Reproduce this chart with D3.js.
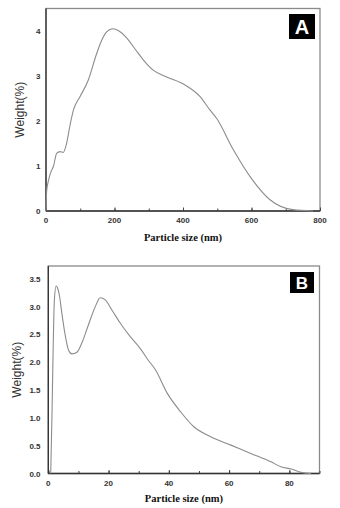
<!DOCTYPE html>
<html><head><meta charset="utf-8">
<script src="https://cdn.jsdelivr.net/npm/d3@7"></script>
<style>body{margin:0;background:#fff}svg{display:block}</style>
</head><body>
<svg id="c" width="340" height="508"></svg>
<script>
// Panel A data (particle size nm, weight %)
const sizeA = [0,2,8,15,22,31,41,50,60,70,80,100,123,148,163,177,195,211,236,260,284,313,352,406,450,479,498,547,600,654,720,780];
const weightA = [0,0.45,0.7,0.88,1.0,1.28,1.32,1.30,1.5,1.9,2.24,2.55,2.9,3.5,3.8,3.98,4.05,4.01,3.84,3.6,3.36,3.13,2.98,2.8,2.54,2.24,2.06,1.36,0.72,0.25,0.03,0];
const xTicksA = [0,200,400,600,800];
const yTicksA = [0,1,2,3,4];

// Panel B data
const sizeB = [0.8,1.2,1.6,2.0,2.6,3.1,3.7,4.5,5.6,6.7,7.8,9.5,11.1,13.3,15.6,17.2,18.9,21.1,23.9,27.2,30.6,33,35.6,39.5,43.9,48.3,53.9,60.6,67.2,73.9,77.2,80.6,83.9,87.2];
const weightB = [0,1.0,2.2,3.1,3.37,3.33,3.2,2.88,2.49,2.22,2.15,2.18,2.34,2.67,3.0,3.16,3.12,2.94,2.7,2.46,2.24,2.05,1.86,1.44,1.11,0.84,0.66,0.51,0.36,0.21,0.12,0.08,0.02,0];
const xTicksB = [0,20,40,60,80];
const yTicksB = [0,0.5,1.0,1.5,2.0,2.5,3.0,3.5];

const svg = d3.select("#c");

function panel(cfg){
  const g = svg.append("g");
  const x = d3.scaleLinear().domain(cfg.xd).range([cfg.l, cfg.r]);
  const y = d3.scaleLinear().domain(cfg.yd).range([cfg.b, cfg.t]);
  // frame top/right
  g.append("rect").attr("x",cfg.l).attr("y",cfg.t).attr("width",cfg.r-cfg.l).attr("height",cfg.b-cfg.t)
    .attr("fill","none").attr("stroke","#8a8a8a").attr("stroke-width",1.3);
  // x axis ticks (inward)
  const xa = g.append("g").attr("transform",`translate(0,${cfg.b})`)
    .call(d3.axisTop(x).tickValues(d3.range(cfg.xd[0], cfg.xd[1]+1e-9, cfg.minor)).tickSize(2.5).tickFormat(""));
  xa.select(".domain").remove();
  xa.selectAll("line").attr("stroke","#444");
  const xm = g.append("g").attr("transform",`translate(0,${cfg.b})`)
    .call(d3.axisTop(x).tickValues(cfg.xt).tickSize(3.5).tickFormat(""));
  xm.select(".domain").remove();
  xm.selectAll("line").attr("stroke","#444");
  // tick labels
  g.selectAll(".xl").data(cfg.xt).enter().append("text")
    .attr("x",d=>x(d)).attr("y",cfg.b+12).attr("text-anchor","middle")
    .attr("font-family","Liberation Sans, Arial, sans-serif").attr("font-size",8).attr("font-weight","bold").attr("fill","#333")
    .text(d=>d3.format(cfg.xf)(d));
  g.selectAll(".yl").data(cfg.yt).enter().append("text")
    .attr("x",40.5).attr("y",d=>y(d)+3).attr("text-anchor","end")
    .attr("font-family","Liberation Sans, Arial, sans-serif").attr("font-size",8).attr("font-weight","bold").attr("fill","#333")
    .text(d=>d3.format(cfg.yf)(d));
  // left & bottom axis lines
  g.append("line").attr("x1",cfg.l).attr("x2",cfg.l).attr("y1",cfg.t).attr("y2",cfg.b).attr("stroke","#333").attr("stroke-width",1.3);
  g.append("line").attr("x1",cfg.l).attr("x2",cfg.r).attr("y1",cfg.b).attr("y2",cfg.b).attr("stroke","#333").attr("stroke-width",1.3);
  // curve
  const line = d3.line().x(d=>x(d[0])).y(d=>y(d[1])).curve(d3.curveMonotoneX);
  g.append("path").datum(d3.zip(cfg.xs, cfg.ys)).attr("d",line)
    .attr("fill","none").attr("stroke","#8c8c8c").attr("stroke-width",1.1);
  // titles
  g.append("text").attr("x",(cfg.l+cfg.r)/2).attr("y",cfg.xty).attr("text-anchor","middle")
    .attr("font-family","Liberation Serif, Times New Roman, serif").attr("font-size",10.5).attr("font-weight","bold").attr("fill","#111")
    .text("Particle size (nm)");
  g.append("text").attr("transform",`translate(${cfg.ytx},${(cfg.t+cfg.b)/2}) rotate(-90)`).attr("text-anchor","middle")
    .attr("font-family","Liberation Sans, Arial, sans-serif").attr("font-size",12).attr("fill","#333")
    .text("Weight(%)");
  // label box
  g.append("rect").attr("x",cfg.box[0]).attr("y",cfg.box[1]).attr("width",cfg.box[2]).attr("height",cfg.box[3]).attr("fill","#000");
  g.append("text").attr("x",cfg.box[0]+cfg.box[2]/2).attr("y",cfg.box[1]+cfg.box[3]/2+cfg.lfs*0.36)
    .attr("text-anchor","middle").attr("font-family","Liberation Sans, Arial, sans-serif").attr("font-weight","bold")
    .attr("font-size",cfg.lfs).attr("fill","#fff").text(cfg.label);
}

panel({xs:sizeA, ys:weightA, xd:[0,800], yd:[0,4.5], l:46, r:320, t:8.5, b:211, xt:xTicksA, yt:yTicksA, minor:100,
  xf:"d", yf:"d", xty:241, ytx:24, box:[289,14,26,25], lfs:20, label:"A"});
panel({xs:sizeB, ys:weightB, xd:[0,90], yd:[0,3.73], l:48.3, r:319.5, t:266, b:473.5, xt:xTicksB, yt:yTicksB, minor:10,
  xf:"d", yf:".1f", xty:501.5, ytx:21, box:[290,272,24,21], lfs:17, label:"B"});
</script>
</body></html>
